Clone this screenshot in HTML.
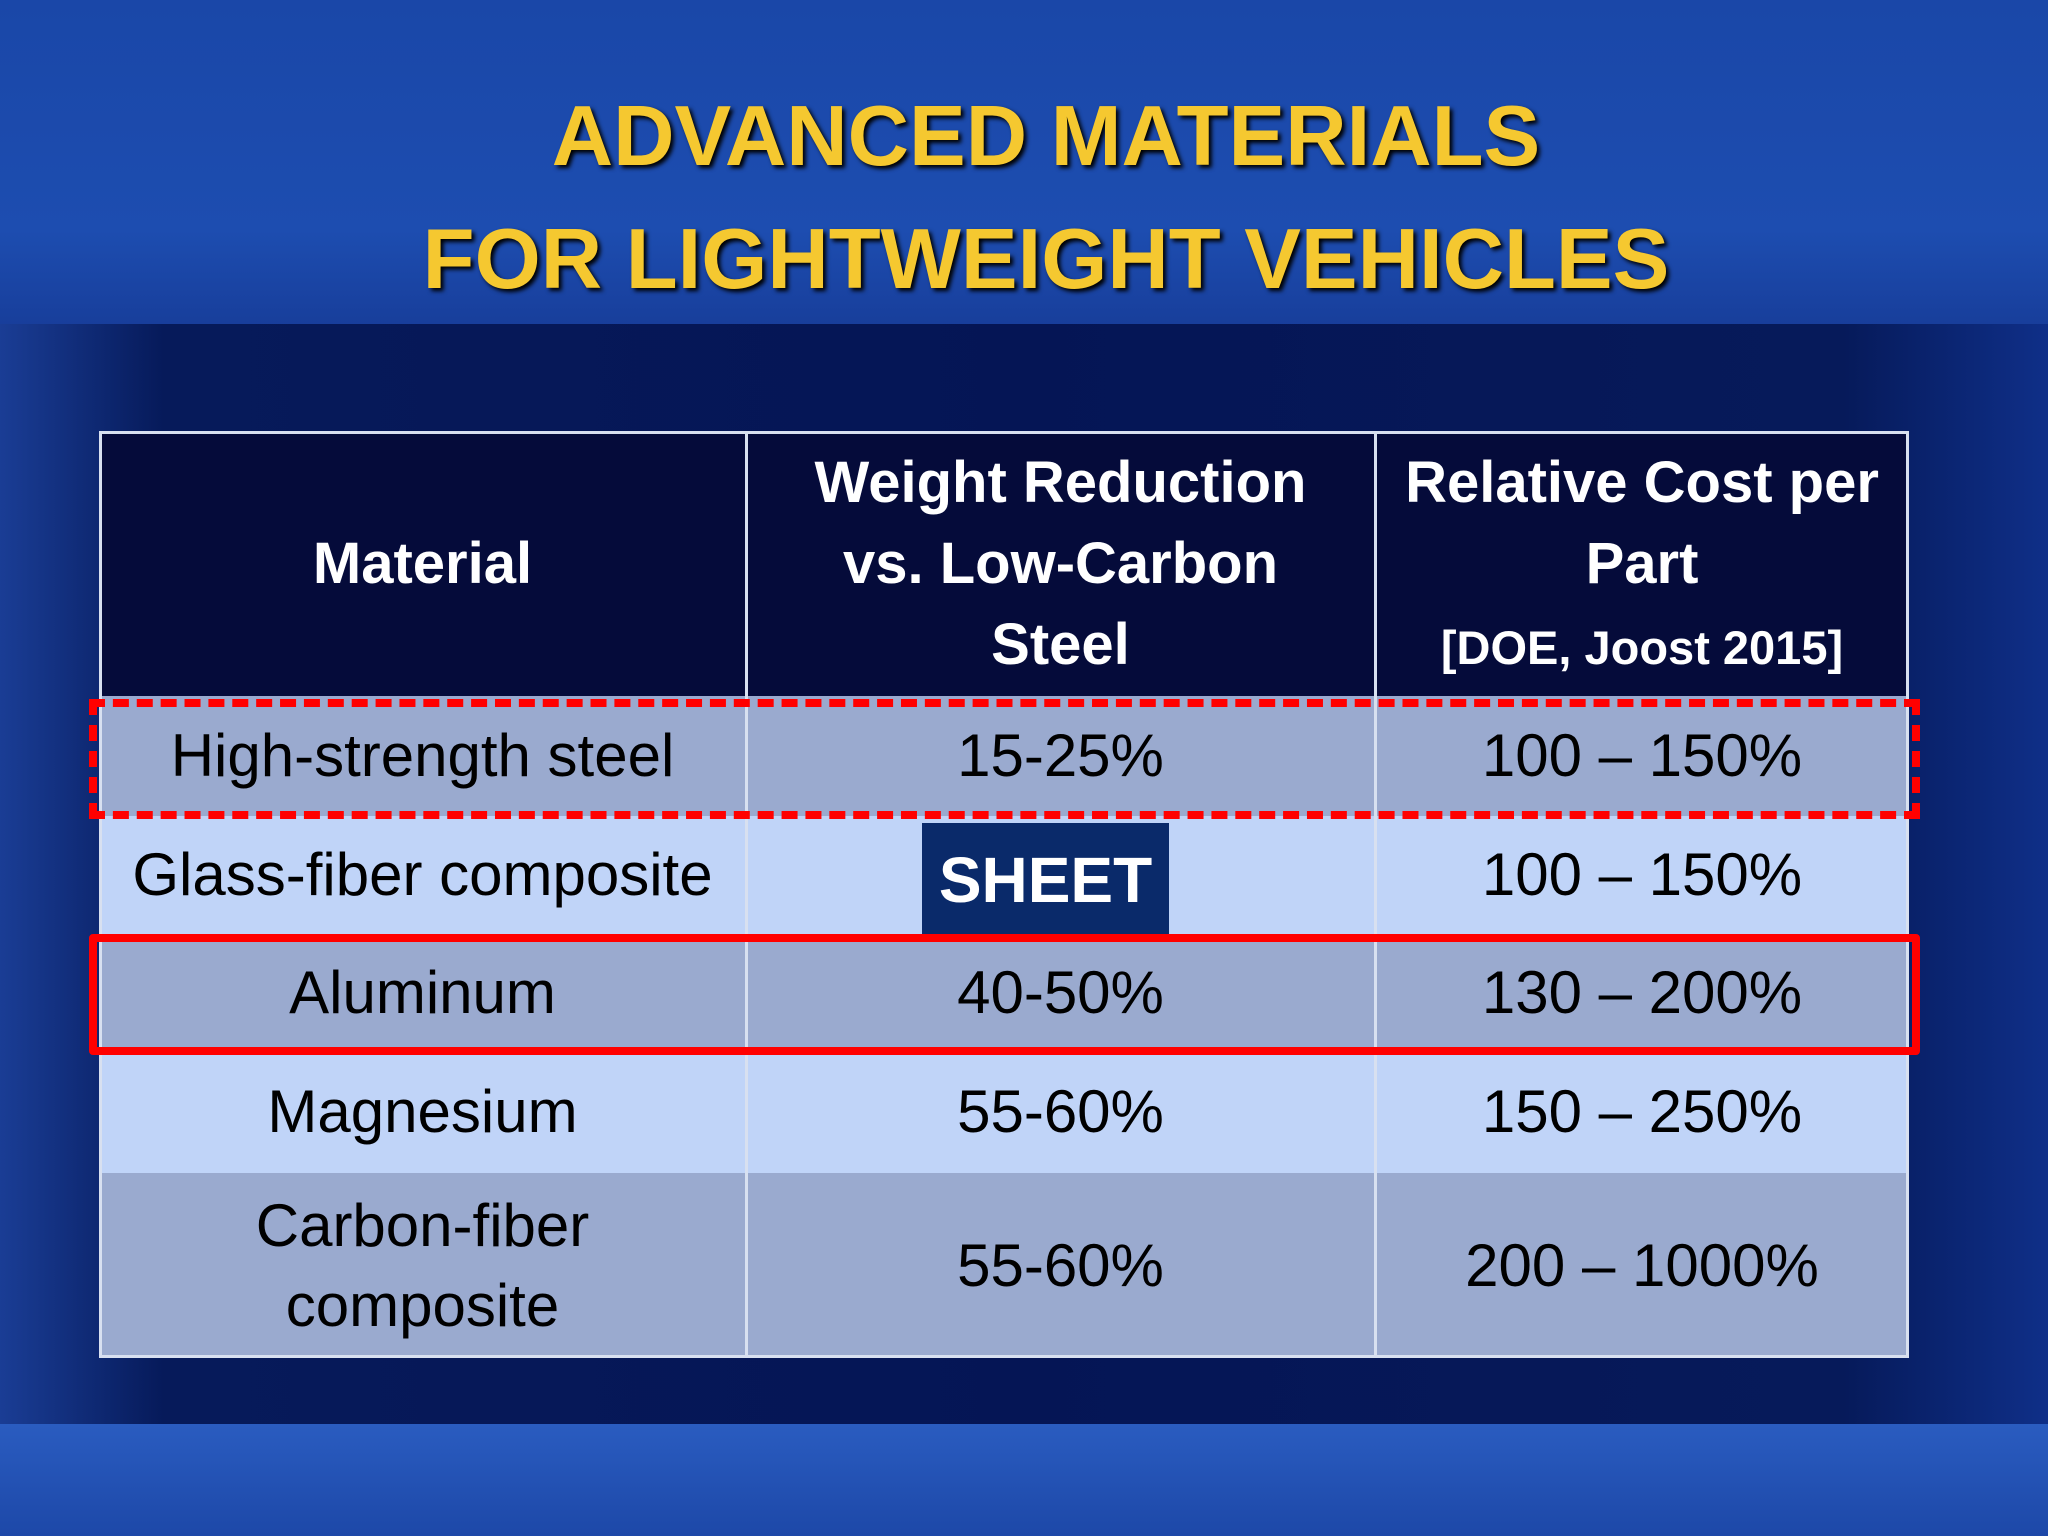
<!DOCTYPE html>
<html><head><meta charset="utf-8"><style>
body{margin:0;width:2048px;height:1536px;overflow:hidden;font-family:"Liberation Sans",sans-serif;}
#bg{position:absolute;left:0;top:0;width:2048px;height:1536px;background:linear-gradient(180deg,#1a47a8 0%,#1d4db0 15%,#173c98 22%,#0c2470 60%,#123080 100%);}
#band{position:absolute;left:0;top:324px;width:2048px;height:1100px;background:linear-gradient(90deg,#1a3d95 0%,#061a5a 8%,#051555 50%,#061a5a 90%,#0f2f88 100%);}
#bottom{position:absolute;left:0;top:1424px;width:2048px;height:112px;background:linear-gradient(180deg,#2a5cc0,#1d48a8);}
.t{position:absolute;left:22px;width:2048px;text-align:center;color:#f5c830;font-weight:bold;font-size:85px;text-shadow:3px 3px 4px #000;}
.c{position:absolute;display:flex;align-items:center;justify-content:center;text-align:center;font-size:60px;color:#000;box-sizing:border-box;line-height:1.33;}
.h{color:#fff;font-weight:bold;background:#050b3a;font-size:58px;line-height:1.4;}
.o{background:#9aaacf;}.e{background:#c0d4f8;}
.v{position:absolute;width:3px;background:#d8e0f0;}
</style></head><body>
<div id="bg"></div>
<div id="band"></div>
<div id="bottom"></div>
<div class="t" style="top:88px">ADVANCED MATERIALS</div>
<div class="t" style="top:211px">FOR LIGHTWEIGHT VEHICLES</div>
<div id="cells"></div>
<script>
const cols=[99,746,1375,1909];
const rows=[431,696,816,934,1051,1173,1358];
const data=[
["Material","Weight Reduction<br>vs. Low-Carbon<br>Steel","Relative Cost per<br>Part<br><span style='font-size:47px'>[DOE, Joost 2015]</span>"],
["High-strength steel","15-25%","100 – 150%"],
["Glass-fiber composite","","100 – 150%"],
["Aluminum","40-50%","130 – 200%"],
["Magnesium","55-60%","150 – 250%"],
["Carbon-fiber<br>composite","55-60%","200 – 1000%"]];
const c=document.getElementById('cells');
data.forEach((r,i)=>r.forEach((txt,j)=>{
 const d=document.createElement('div');
 d.className='c '+(i==0?'h':(i%2?'o':'e'));
 d.style.left=cols[j]+'px';d.style.top=rows[i]+'px';
 d.style.width=(cols[j+1]-cols[j])+'px';d.style.height=(rows[i+1]-rows[i])+'px';
 d.innerHTML='<div>'+txt+'</div>';
 
 
 c.appendChild(d);
}));
[746,1375].forEach(x=>{const v=document.createElement('div');v.className='v';v.style.left=(x-1)+'px';v.style.top='431px';v.style.height='927px';


c.appendChild(v);});
</script>
<div style="position:absolute;left:99px;top:431px;width:1810px;height:927px;border:3px solid #d8e0f0;box-sizing:border-box;"></div>
<div style="position:absolute;left:922px;top:823px;width:247px;height:113px;background:#0a2a6a;color:#fff;font-weight:bold;font-size:64px;display:flex;align-items:center;justify-content:center;">SHEET</div>
<div style="position:absolute;left:89px;top:699px;width:1831px;height:120px;border:8px dashed #f00;box-sizing:border-box;"></div>
<div style="position:absolute;left:89px;top:934px;width:1831px;height:121px;border:8px solid #f00;border-radius:4px;box-sizing:border-box;"></div>
</body></html>
